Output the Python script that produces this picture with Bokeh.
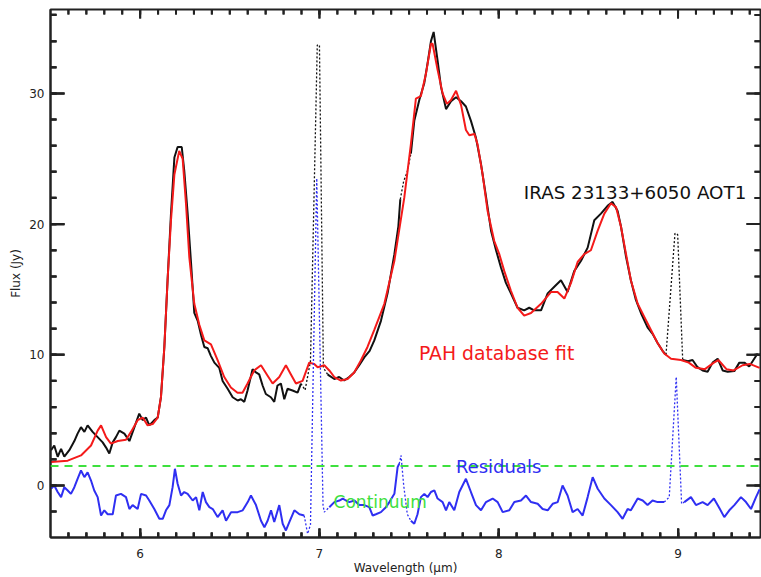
import math
from bokeh.plotting import figure
from bokeh.models import FixedTicker, Label, Span
from bokeh.embed import file_html
from bokeh.resources import INLINE

FONT = "DejaVu Sans"

# ---- observed spectrum (black); flag = 1 marks masked points drawn dotted
obs_wl = [5.503, 5.521, 5.54, 5.559, 5.577, 5.605, 5.633, 5.651, 5.67, 5.689,
          5.707, 5.735, 5.763, 5.791, 5.81, 5.828, 5.847, 5.865, 5.884, 5.912,
          5.94, 5.968, 5.995, 6.014, 6.033, 6.051, 6.079, 6.098, 6.116, 6.135,
          6.153, 6.172, 6.191, 6.209, 6.232, 6.246, 6.265, 6.284, 6.302, 6.321,
          6.34, 6.358, 6.377, 6.395, 6.414, 6.441, 6.46, 6.488, 6.516, 6.544,
          6.562, 6.581, 6.599, 6.627, 6.646, 6.664, 6.683, 6.701, 6.729, 6.748,
          6.766, 6.785, 6.804, 6.822, 6.85, 6.878, 6.897,
          6.92, 6.95, 6.988, 7.0, 7.022,
          7.046, 7.055, 7.083, 7.11, 7.138, 7.166, 7.194, 7.222, 7.25, 7.28,
          7.306, 7.343, 7.38, 7.418, 7.44, 7.451,
          7.47, 7.49,
          7.51, 7.529, 7.557, 7.585, 7.603, 7.622, 7.637, 7.659, 7.678, 7.706,
          7.734, 7.762, 7.79, 7.817, 7.845, 7.873, 7.901, 7.929, 7.957, 7.985,
          8.012, 8.04, 8.068, 8.105, 8.142, 8.17, 8.198, 8.236, 8.273, 8.31,
          8.347, 8.384, 8.421, 8.459, 8.496, 8.533, 8.57, 8.607, 8.635, 8.663,
          8.682, 8.71, 8.737, 8.765, 8.793, 8.83, 8.858, 8.886, 8.914, 8.933,
          8.983, 8.998,
          9.026, 9.055, 9.081, 9.109, 9.137, 9.165, 9.193, 9.221, 9.249, 9.277,
          9.314, 9.342, 9.37, 9.397, 9.416, 9.444]
obs_flux = [2.7, 3.06, 2.2, 2.8, 2.2, 2.7, 3.4, 3.97, 4.46, 4.1,
            4.6, 4.1, 3.7, 3.3, 2.9, 2.45, 3.3, 3.7, 4.2, 3.97,
            3.4, 4.46, 5.5, 5.0, 5.2, 4.6, 5.0, 5.2, 6.76, 10.6,
            15.7, 20.8, 25.1, 25.9, 25.9, 24.1, 20.8, 17.0, 13.2, 12.6,
            11.5, 10.6, 10.5, 9.9, 9.4, 9.0, 8.0, 7.4, 6.75, 6.5,
            6.6, 6.4, 7.27, 8.9, 8.65, 8.5, 7.65, 7.0, 6.75, 6.4,
            7.65, 7.8, 6.6, 7.4, 7.27, 7.1, 7.8,
            7.3, 9.5, 33.7, 33.7, 9.0,
            8.5, 8.4, 8.15, 8.3, 8.03, 8.3, 8.65, 9.2, 9.8, 10.3,
            11.1, 12.6, 14.7, 17.7, 19.8, 21.9,
            23.3, 24.0,
            25.4, 27.9, 29.5, 30.8, 32.3, 34.0, 34.7, 32.5, 30.5, 28.8,
            29.4, 29.7, 29.4, 29.0, 27.9, 26.6, 24.6, 22.1, 19.5, 18.0,
            16.7, 15.5, 14.7, 13.6, 13.4, 13.6, 13.4, 13.4, 14.7, 15.2,
            15.7, 14.8, 16.4, 17.2, 18.2, 20.3, 20.8, 21.4, 21.7, 21.0,
            19.8, 17.5, 15.7, 14.2, 13.2, 12.1, 11.6, 10.9, 10.3, 10.0,
            19.3, 19.2,
            9.6, 9.5, 9.6, 9.05, 8.8, 8.7, 9.4, 9.7, 8.8, 8.7,
            8.75, 9.4, 9.4, 9.1, 9.5, 10.1]
obs_flag = ([0] * 67 + [1] * 5 + [0] * 16 + [1] * 2 + [0] * 50 + [1] * 2 + [0] * 16)

# ---- PAH database fit (red)
fit_wl = [5.503, 5.596, 5.67, 5.726, 5.763, 5.782, 5.81, 5.837, 5.875, 5.921,
          5.949, 5.986, 6.014, 6.042, 6.07, 6.098, 6.116, 6.135, 6.153, 6.172,
          6.191, 6.218, 6.237, 6.256, 6.274, 6.302, 6.33, 6.358, 6.395, 6.432,
          6.469, 6.506, 6.543, 6.571, 6.599, 6.636, 6.674, 6.711, 6.739, 6.776,
          6.813, 6.841, 6.869, 6.906, 6.943, 6.971, 6.99, 7.027, 7.055, 7.083,
          7.12, 7.157, 7.194, 7.231, 7.268, 7.306, 7.362, 7.418, 7.473, 7.51,
          7.538, 7.566, 7.594, 7.622, 7.631, 7.659, 7.687, 7.711, 7.734, 7.762,
          7.79, 7.817, 7.836, 7.864, 7.882, 7.91, 7.938, 7.975, 8.003, 8.031,
          8.068, 8.105, 8.142, 8.18, 8.236, 8.291, 8.328, 8.366, 8.403, 8.44,
          8.477, 8.514, 8.552, 8.589, 8.626, 8.654, 8.682, 8.71, 8.737, 8.775,
          8.812, 8.849, 8.886, 8.923, 8.961, 9.016, 9.06, 9.1, 9.15, 9.2,
          9.225, 9.27, 9.31, 9.36, 9.4, 9.455]
fit_flux = [1.8, 1.9, 2.3, 3.06, 4.2, 4.6, 3.7, 3.2, 3.4, 3.5,
            4.1, 5.0, 5.2, 4.6, 4.7, 5.2, 6.76, 10.6, 15.7, 20.3,
            23.8, 25.6, 25.0, 21.5, 17.5, 13.9, 12.3, 11.1, 10.8, 9.6,
            8.3, 7.5, 7.1, 7.1, 7.8, 8.8, 9.2, 8.4, 7.8, 8.3,
            9.2, 8.5, 7.8, 8.0, 9.4, 9.3, 9.05, 9.2, 8.8, 8.3,
            8.03, 8.15, 8.65, 9.56, 10.6, 11.9, 13.9, 17.2, 22.0, 26.1,
            29.6, 29.8, 31.5, 33.8, 33.8, 31.8, 30.0, 29.2, 29.5, 30.2,
            29.1, 27.2, 26.8, 26.9, 26.1, 23.8, 21.0, 18.7, 17.7, 16.4,
            14.9, 13.6, 13.0, 13.2, 13.9, 14.8, 14.8, 14.3, 15.5, 17.1,
            17.7, 18.0, 19.5, 20.8, 21.6, 21.3, 19.8, 17.7, 15.7, 13.9,
            12.9, 11.9, 10.9, 10.1, 9.7, 9.6, 9.4, 9.0, 8.9, 9.4,
            9.6, 8.9, 8.8, 9.2, 9.3, 9.0]

# ---- residuals (blue); flag = 1 marks masked points drawn dotted
res_wl = [5.503, 5.521, 5.54, 5.559, 5.577, 5.596, 5.614, 5.633, 5.651, 5.67,
          5.689, 5.707, 5.726, 5.744, 5.763, 5.782, 5.8, 5.819, 5.847, 5.865,
          5.893, 5.921, 5.94, 5.958, 5.986, 6.005, 6.033, 6.051, 6.079, 6.107,
          6.126, 6.144, 6.163, 6.181, 6.194, 6.209, 6.228, 6.246, 6.265, 6.293,
          6.312, 6.33, 6.349, 6.367, 6.386, 6.405, 6.432, 6.46, 6.479, 6.507,
          6.544, 6.572, 6.6, 6.618, 6.646, 6.674, 6.693, 6.711, 6.73, 6.748,
          6.776, 6.795, 6.813, 6.832, 6.86, 6.888, 6.915,
          6.934, 6.95, 6.985, 7.02, 7.027,
          7.055, 7.083, 7.111, 7.13, 7.148, 7.167, 7.195, 7.222, 7.25, 7.278,
          7.297, 7.315, 7.343, 7.371, 7.39, 7.418, 7.436, 7.445,
          7.455, 7.47, 7.49,
          7.51, 7.529, 7.547, 7.566, 7.585, 7.603, 7.622, 7.641, 7.659, 7.687,
          7.706, 7.724, 7.752, 7.78, 7.817, 7.845, 7.873, 7.901, 7.929, 7.966,
          7.994, 8.022, 8.059, 8.087, 8.124, 8.152, 8.18, 8.217, 8.245, 8.273,
          8.301, 8.329, 8.356, 8.384, 8.412, 8.44, 8.468, 8.496, 8.524, 8.552,
          8.589, 8.626, 8.663, 8.691, 8.719, 8.737, 8.775, 8.803, 8.83, 8.858,
          8.886, 8.923,
          8.951, 8.99, 9.02,
          9.035, 9.072, 9.1, 9.137, 9.165, 9.2, 9.228, 9.258, 9.286, 9.314,
          9.351, 9.379, 9.407, 9.435, 9.455]
res_flux = [-0.25, 0.0, -0.5, -0.89, -0.13, -0.38, -0.64, -0.13, 0.51, 1.15,
            0.64, 1.0, 0.38, -0.38, -0.89, -2.3, -1.9, -2.2, -2.2, -0.77,
            -0.64, -0.89, -1.8, -1.5, -1.8, -0.64, -0.77, -1.15, -1.8, -2.55,
            -2.55, -1.9, -1.5, -0.13, 1.28, 0.13, -0.77, -0.5, -0.64, -1.15,
            -0.89, -1.9, -0.5, -1.27, -1.66, -1.8, -2.42, -1.9, -2.7, -2.04,
            -2.04, -1.9, -1.27, -0.77, -1.5, -2.7, -3.2, -2.7, -1.9, -2.8,
            -1.5, -2.93, -3.44, -2.8, -1.9, -2.2, -2.3,
            -3.7, -3.0, 23.5, -1.5, -2.04,
            -1.66, -1.27, -1.15, -1.0, -1.15, -1.27, -1.15, -1.5, -1.5, -1.66,
            -2.3, -2.2, -2.04, -1.66, -1.27, -0.64, 1.4, 1.66,
            2.3, 0.0, -2.2,
            -2.7, -2.93, -2.2, -0.89, -0.64, -0.89, -0.5, -0.38, -1.0, -1.27,
            -1.9, -1.27, -1.9, -0.5, 0.51, -0.5, -1.5, -1.9, -1.27, -1.0,
            -1.27, -2.04, -1.9, -1.27, -1.15, -0.77, -1.27, -1.4, -1.8, -1.9,
            -1.4, -1.27, 0.0, -0.77, -2.04, -1.8, -2.3, -0.89, 0.64, -0.25,
            -1.0, -1.5, -2.04, -2.55, -1.8, -1.9, -1.0, -1.15, -1.5, -1.15,
            -1.27, -1.27,
            -0.89, 8.3, -1.4,
            -1.27, -0.89, -1.5, -1.27, -1.5, -1.0, -1.66, -2.42, -1.9, -1.5,
            -0.89, -1.27, -1.8, -0.89, -0.3]
res_flag = ([0] * 67 + [1] * 5 + [0] * 18 + [1] * 3 + [0] * 52 + [1] * 3 + [0] * 15)

continuum_level = 1.5

x_major = [6, 7, 8, 9]
y_major = [0, 10, 20, 30]
x_minor = [round(5.6 + 0.1 * k, 2) for k in range(39)]
y_minor = list(range(-2, 37, 2))

title_text = "IRAS 23133+6050 AOT1"
fit_text = "PAH database fit"
res_text = "Residuals"
cont_text = "Continuum"

BLACK = "#111111"
RED = "#f41a1a"
BLUE = "#2f2ff2"
GREEN = "#3ee03e"
AXIS = "#222222"

W, H = 761, 577
BL, BR, BT, BB = 50, 1, 9, 40
X0, X1 = 5.5, 9.46
Y0, Y1 = -3.98, 36.42
XS = (W - BL - BR) / (X1 - X0)   # px per micron
YS = (H - BT - BB) / (Y1 - Y0)   # px per Jy
NAN = float("nan")


def split(xs, ys, flags):
    n = len(xs)
    solid, dotted = [], []
    for i in range(n):
        solid.append(NAN if flags[i] else ys[i])
        near = flags[i] or (i > 0 and flags[i - 1]) or (i < n - 1 and flags[i + 1])
        dotted.append(ys[i] if near else NAN)
    return solid, dotted


p = figure(width=W, height=H, x_range=(X0, X1), y_range=(Y0, Y1),
           output_backend="svg", toolbar_location=None,
           min_border_left=BL, min_border_right=BR, min_border_top=BT,
           min_border_bottom=BB)
p.grid.visible = False
p.outline_line_color = AXIS
p.outline_line_width = 2
p.background_fill_color = "white"
p.border_fill_color = "white"

obs_solid, obs_dot = split(obs_wl, obs_flux, obs_flag)
res_solid, res_dot = split(res_wl, res_flux, res_flag)

p.line(obs_wl, obs_solid, line_color=BLACK, line_width=2)
p.line(obs_wl, obs_dot, line_color=BLACK, line_width=1.3, line_dash="2 2")
p.line(fit_wl, fit_flux, line_color=RED, line_width=2)
p.line(res_wl, res_solid, line_color=BLUE, line_width=2)
p.line(res_wl, res_dot, line_color=BLUE, line_width=1.3, line_dash="2 2")
p.add_layout(Span(location=continuum_level, dimension="width", line_color=GREEN,
                  line_width=2, line_dash="8 6"))

# inward tick marks on all four edges; each tick starts a little outside the
# frame (clipped there) so that no end point lies exactly on the range limit
OUT = 3
mx, my = [], []
ql, qr, qb, qt = [], [], [], []
for xs_, lpx in [(x_minor, 5), (x_major, 9)]:
    for xv in xs_:
        mx += [[xv, xv], [xv, xv]]
        my += [[Y0 - OUT / YS, Y0 + lpx / YS], [Y1 + OUT / YS, Y1 - lpx / YS]]
        ql += [xv - 1 / XS, xv - 1 / XS]
        qr += [xv + 1 / XS, xv + 1 / XS]
        qb += [Y0 - OUT / YS, Y1 - lpx / YS]
        qt += [Y0 + lpx / YS, Y1 + OUT / YS]
for ys_, lpx in [(y_minor, 6), (y_major, 14)]:
    for yv in ys_:
        mx += [[X0 - OUT / XS, X0 + lpx / XS], [X1 + OUT / XS, X1 - lpx / XS]]
        my += [[yv, yv], [yv, yv]]
        ql += [X0 - OUT / XS, X1 - lpx / XS]
        qr += [X0 + lpx / XS, X1 + OUT / XS]
        qb += [yv - 1 / YS, yv - 1 / YS]
        qt += [yv + 1 / YS, yv + 1 / YS]
p.quad(left=ql, right=qr, bottom=qb, top=qt, fill_color=AXIS, line_color=None)
p.multi_line(xs=mx, ys=my, line_color=AXIS, line_width=2)

for txt, x, y, col, fs in [(title_text, 8.14, 22.44, BLACK, "18.3px"),
                           (fit_text, 7.555, 10.12, RED, "18.8px"),
                           (res_text, 7.761, 1.45, BLUE, "18px"),
                           (cont_text, 7.079, -1.3, GREEN, "17px")]:
    p.add_layout(Label(x=x, y=y, text=txt, text_color=col, text_font=FONT,
                       text_font_size=fs, text_align="left",
                       text_baseline="alphabetic"))

xb = p.below[0]
yl = p.left[0]
xb.ticker = FixedTicker(ticks=x_major, minor_ticks=x_minor)
yl.ticker = FixedTicker(ticks=y_major, minor_ticks=y_minor)
xb.major_tick_in = 9
xb.minor_tick_in = 5
yl.major_tick_in = 14
yl.minor_tick_in = 6

for ax in [xb, yl]:
    ax.major_tick_out = 0
    ax.minor_tick_out = 0
    ax.major_tick_line_color = AXIS
    ax.minor_tick_line_color = AXIS
    ax.major_tick_line_width = 2
    ax.minor_tick_line_width = 2
    ax.axis_line_color = AXIS
    ax.axis_line_width = 2
    ax.major_label_text_font = FONT
    ax.major_label_text_color = AXIS
    ax.axis_label_text_font = FONT
    ax.axis_label_text_font_style = "normal"
    ax.axis_label_text_color = AXIS

xb.axis_label = "Wavelength (\u03bcm)"
xb.major_label_text_font_size = "12px"
xb.major_label_standoff = 11
xb.axis_label_text_font_size = "12px"
xb.axis_label_standoff = 0

yl.axis_label = "Flux (Jy)"
yl.major_label_text_font_size = "12px"
yl.major_label_standoff = 6
yl.axis_label_text_font_size = "12px"
yl.axis_label_standoff = 3

open("out.html", "w").write(file_html(p, INLINE))
